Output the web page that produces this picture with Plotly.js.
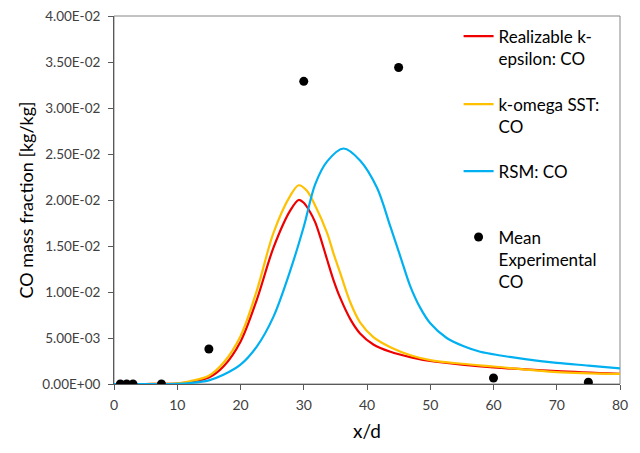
<!DOCTYPE html>
<html>
<head>
<meta charset="utf-8">
<script src="https://cdn.plot.ly/plotly-3.0.1.min.js"></script>
<style>html,body{margin:0;padding:0;background:#fff;}#chart{width:640px;height:453px;}</style>
</head>
<body>
<div id="chart"></div>
<script>
// Realizable k-epsilon
const rkeX = [0, 5, 10, 12, 15, 17.3, 20, 22.6, 25.2, 27.9, 29.2, 30.0, 31.0, 31.8, 32.6, 33.7, 34.7, 35.8, 37.4, 38.9, 41, 43.7, 47, 50, 55, 60, 70, 80];
const rkeY = [0, 0, 0.00005, 0.0002, 0.0007, 0.0019, 0.0046, 0.0092, 0.0148, 0.0189, 0.0200, 0.0197, 0.0187, 0.0176, 0.0160, 0.0135, 0.0113, 0.0093, 0.0070, 0.0055, 0.0043, 0.0035, 0.0029, 0.0025, 0.0021, 0.0018, 0.0014, 0.0011];
// k-omega SST
const sstX = [0, 5, 10, 12, 15, 17.3, 20, 22.6, 25.2, 27.9, 29.2, 30.5, 31.8, 33.7, 34.7, 35.8, 37.4, 38.9, 41, 43.7, 47, 50, 55, 60, 70, 80];
const sstY = [0, 0, 0.00007, 0.0003, 0.0009, 0.0023, 0.0052, 0.0102, 0.0164, 0.0205, 0.0216, 0.0210, 0.0194, 0.0164, 0.0142, 0.0120, 0.0088, 0.0067, 0.0051, 0.0040, 0.0031, 0.0026, 0.0022, 0.0019, 0.0013, 0.0011];
// RSM
const rsmX = [0, 5, 10, 12, 15, 17.3, 20, 22.6, 25.2, 27.9, 30, 31.8, 33.7, 36.3, 38.9, 41.6, 43.7, 45.3, 46.8, 48.4, 50, 52.6, 55.3, 57.9, 61.1, 65, 70, 75, 80];
const rsmY = [0, 0, 0.00002, 0.0001, 0.0004, 0.0010, 0.0021, 0.0041, 0.0073, 0.0124, 0.0171, 0.0217, 0.0242, 0.0256, 0.0243, 0.0213, 0.0171, 0.0138, 0.0107, 0.0083, 0.0066, 0.0050, 0.0041, 0.0035, 0.0031, 0.0027, 0.0023, 0.0020, 0.0017];
// Mean experimental
const expX = [1, 2, 3, 7.5, 15, 30, 45, 60, 75];
const expY = [0, 0, 0, 0, 0.0038, 0.0329, 0.0344, 0.00065, 0.0002];

const yTickVals = [0, 0.005, 0.01, 0.015, 0.02, 0.025, 0.03, 0.035, 0.04];
const yTickText = ["0.00E+00", "5.00E-03", "1.00E-02", "1.50E-02", "2.00E-02", "2.50E-02", "3.00E-02", "3.50E-02", "4.00E-02"];
const xTickVals = [0, 10, 20, 30, 40, 50, 60, 70, 80];

const names = ["Realizable k-<br>epsilon: CO", "k-omega SST:<br>CO", "RSM: CO", "Mean<br>Experimental<br>CO"];

const FONT = "Lato, 'Open Sans', sans-serif";

const traces = [
  {x: rkeX, y: rkeY, mode: 'lines', line: {color: '#ee0000', width: 2.2, shape: 'spline', smoothing: 0.9}, name: names[0], legend: 'legend'},
  {x: sstX, y: sstY, mode: 'lines', line: {color: '#ffc000', width: 2.2, shape: 'spline', smoothing: 0.9}, name: names[1], legend: 'legend2'},
  {x: rsmX, y: rsmY, mode: 'lines', line: {color: '#00b0f0', width: 2.2, shape: 'spline', smoothing: 0.9}, name: names[2], legend: 'legend3'},
  {x: expX, y: expY, mode: 'markers', marker: {color: '#000', size: 9}, name: names[3], legend: 'legend4'}
];

function leg(y) {
  return {x: 0.681, y: y, xanchor: 'left', yanchor: 'top', bgcolor: 'rgba(0,0,0,0)', valign: 'top',
          font: {family: FONT, size: 17, color: '#000'}, itemwidth: 30};
}

const layout = {
  width: 640, height: 453,
  margin: {l: 113.5, r: 20, t: 16, b: 68.7},
  paper_bgcolor: '#fff', plot_bgcolor: '#fff',
  showlegend: true,
  legend: leg(0.993),
  legend2: leg(0.808),
  legend3: leg(0.626),
  legend4: leg(0.447),
  xaxis: {
    range: [0, 80], tickvals: xTickVals, ticks: 'outside', ticklen: 5, tickcolor: '#595959',
    showline: true, linecolor: '#595959', linewidth: 1, showgrid: false, zeroline: false,
    tickfont: {family: FONT, size: 14, color: '#404040'}, ticklabelstandoff: 3,
    title: {text: 'x/d', font: {family: FONT, size: 19, color: '#000'}, standoff: 12}
  },
  yaxis: {
    range: [0, 0.04], tickvals: yTickVals, ticktext: yTickText, ticks: 'outside', ticklen: 5, tickcolor: '#595959',
    showline: true, linecolor: '#595959', linewidth: 1, showgrid: false, zeroline: false,
    tickfont: {family: FONT, size: 13.5, color: '#404040'}, ticklabelstandoff: 5,
    title: {text: 'CO mass fraction [kg/kg]', font: {family: FONT, size: 18, color: '#000'}, standoff: 4}
  },
  shapes: [
    {type: 'rect', xref: 'paper', yref: 'paper', x0: 0, x1: 1, y0: 0, y1: 1, line: {color: '#868686', width: 1}, layer: 'below'}
  ]
};

Plotly.newPlot('chart', traces, layout, {staticPlot: true, displayModeBar: false});
</script>
</body>
</html>
